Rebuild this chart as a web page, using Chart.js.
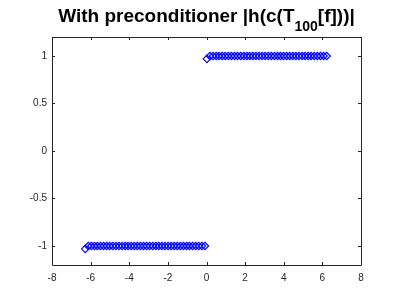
<!DOCTYPE html>
<html><head><meta charset="utf-8">
<script src="https://cdn.jsdelivr.net/npm/chart.js@4/dist/chart.umd.min.js"></script>
<style>html,body{margin:0;padding:0;background:#fff}#wrap{width:399px;height:299px}</style>
</head><body><div id="wrap"><canvas id="c" width="399" height="299"></canvas></div>
<script>
const titleMain = "With preconditioner |h(c(T";
const titleSub = "100";
const titleEnd = "[f]))|";
const xNeg = [-6.28,-6.12,-5.96,-5.80,-5.65,-5.49,-5.33,-5.17,-5.01,-4.85,-4.69,-4.53,-4.37,-4.21,-4.06,-3.90,-3.74,-3.58,-3.42,-3.26,-3.10,-2.94,-2.78,-2.62,-2.47,-2.31,-2.15,-1.99,-1.83,-1.67,-1.51,-1.35,-1.19,-1.03,-0.88,-0.72,-0.56,-0.40,-0.24,-0.08];
const yNeg = [-1.03,-1.00,-1.00,-1.00,-1.00,-1.00,-1.00,-1.00,-1.00,-1.00,-1.00,-1.00,-1.00,-1.00,-1.00,-1.00,-1.00,-1.00,-1.00,-1.00,-1.00,-1.00,-1.00,-1.00,-1.00,-1.00,-1.00,-1.00,-1.00,-1.00,-1.00,-1.00,-1.00,-1.00,-1.00,-1.00,-1.00,-1.00,-1.00,-1.00];
const xPos = [0.02,0.18,0.34,0.50,0.65,0.81,0.97,1.13,1.29,1.45,1.61,1.77,1.93,2.09,2.24,2.40,2.56,2.72,2.88,3.04,3.20,3.36,3.52,3.68,3.83,3.99,4.15,4.31,4.47,4.63,4.79,4.95,5.11,5.27,5.42,5.58,5.74,5.90,6.06,6.22];
const yPos = [0.97,1.00,1.00,1.00,1.00,1.00,1.00,1.00,1.00,1.00,1.00,1.00,1.00,1.00,1.00,1.00,1.00,1.00,1.00,1.00,1.00,1.00,1.00,1.00,1.00,1.00,1.00,1.00,1.00,1.00,1.00,1.00,1.00,1.00,1.00,1.00,1.00,1.00,1.00,1.00];
const xTicks = [-8,-6,-4,-2,0,2,4,6,8];
const yTicks = [-1,-0.5,0,0.5,1];

const pts = xNeg.map((x,i)=>({x, y:yNeg[i]})).concat(xPos.map((x,i)=>({x, y:yPos[i]})));
const axisColor = '#262626';
const FONT = '"Liberation Sans", Arial, Helvetica, sans-serif';

const boxPlugin = {
  id:'box',
  afterDraw(chart){
    const ctx = chart.ctx, a = chart.chartArea;
    const xs = chart.scales.x, ys = chart.scales.y;
    ctx.save();
    ctx.strokeStyle = axisColor; ctx.lineWidth = 1;
    ctx.beginPath();
    ctx.rect(Math.round(a.left)+0.5, Math.round(a.top)+0.5, Math.round(a.right-a.left), Math.round(a.bottom-a.top));
    ctx.stroke();
    const tl = 3;
    ctx.beginPath();
    xTicks.forEach(v=>{
      const p = Math.round(xs.getPixelForValue(v))+0.5;
      ctx.moveTo(p, a.bottom); ctx.lineTo(p, a.bottom - tl);
      ctx.moveTo(p, a.top); ctx.lineTo(p, a.top + tl);
    });
    yTicks.forEach(v=>{
      const p = Math.round(ys.getPixelForValue(v))+0.5;
      ctx.moveTo(a.left, p); ctx.lineTo(a.left + tl, p);
      ctx.moveTo(a.right, p); ctx.lineTo(a.right - tl, p);
    });
    ctx.stroke();
    // title with subscript
    const mainFont = 'bold 19px ' + FONT, subFont = 'bold 14px ' + FONT;
    ctx.fillStyle = '#000';
    ctx.textBaseline = 'alphabetic';
    ctx.font = mainFont;
    const w1 = ctx.measureText(titleMain).width, w3 = ctx.measureText(titleEnd).width;
    ctx.font = subFont;
    const w2 = ctx.measureText(titleSub).width;
    const total = w1+w2+w3;
    let x0 = (a.left + a.right)/2 - total/2;
    const base = 22;
    ctx.textAlign = 'left';
    ctx.font = mainFont; ctx.fillText(titleMain, x0, base);
    ctx.font = subFont; ctx.fillText(titleSub, x0 + w1, base + 9);
    ctx.font = mainFont; ctx.fillText(titleEnd, x0 + w1 + w2, base);
    ctx.restore();
  }
};

new Chart(document.getElementById('c'), {
  type:'scatter',
  data:{datasets:[{data:pts, pointStyle:'rectRot', pointRadius:3.7, pointBorderColor:'#0000ff', pointBackgroundColor:'rgba(0,0,0,0)', pointBorderWidth:1.2, showLine:false}]},
  options:{
    responsive:false, animation:false, devicePixelRatio:1,
    layout:{padding:{left:0, right:38, top:37, bottom:0}},
    plugins:{legend:{display:false}, tooltip:{enabled:false}, title:{display:false}},
    scales:{
      x:{type:'linear', min:-8, max:8, afterBuildTicks(s){s.ticks = xTicks.map(v=>({value:v}));},
         grid:{display:false, drawTicks:false}, border:{display:false},
         ticks:{color:axisColor, font:{family:FONT, size:10}, padding:7, maxRotation:0},
         afterFit(s){s.height = 34;}},
      y:{type:'linear', min:-1.2, max:1.2, afterBuildTicks(s){s.ticks = yTicks.map(v=>({value:v}));},
         grid:{display:false, drawTicks:false}, border:{display:false},
         ticks:{color:axisColor, font:{family:FONT, size:10}, padding:5, callback:v=>String(v)},
         afterFit(s){s.width = 52;}}
    }
  },
  plugins:[boxPlugin]
});
</script></body></html>
